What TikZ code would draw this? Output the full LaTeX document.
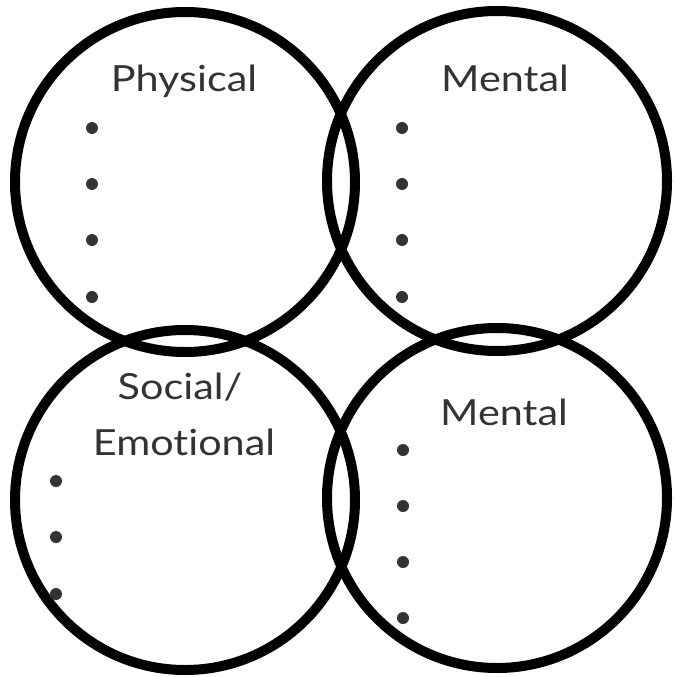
\documentclass[tikz,border=0pt]{standalone}
\usepackage{fontspec}
\setmainfont{Lato}[FakeStretch=1.15,Ligatures=NoCommon]
\definecolor{ink}{HTML}{333333}

\begin{document}
\begin{tikzpicture}[x=1pt,y=-1pt]
\tikzset{ring/.style={circle,draw,line width=10pt,minimum size=340pt,inner sep=0pt},
  heading/.style={anchor=base,text=ink,font=\fontsize{36}{40}\selectfont},
  dot/.style={circle,fill=ink,inner sep=0pt,minimum size=12pt}}
\useasboundingbox (0,0) rectangle (675,677);
\node[ring] (phys) at (185,182) {};
\node[ring] (ment) at (497,181) {};
\node[ring] (soc) at (185,500) {};
\node[ring] (ment2) at (497,498) {};
\node[heading] (physT) at (184,91) {Physical};
\node[heading] (mentT) at (505,92) {Mental};
\node[heading] (socT) at (180,399) {Social/};
\node[heading] (emoT) at (184,455) {Emotional};
\node[heading] (ment2T) at (504,425) {Mental};
\foreach \y [count=\i] in {128,184,240,297} \node[dot] (physD\i) at (92,\y) {};
\foreach \y [count=\i] in {128,184,240,297} \node[dot] (mentD\i) at (402,\y) {};
\foreach \y [count=\i] in {481,537,594} \node[dot] (socD\i) at (56,\y) {};
\foreach \y [count=\i] in {450,506,562,618} \node[dot] (ment2D\i) at (403,\y) {};
\end{tikzpicture}
\end{document}
